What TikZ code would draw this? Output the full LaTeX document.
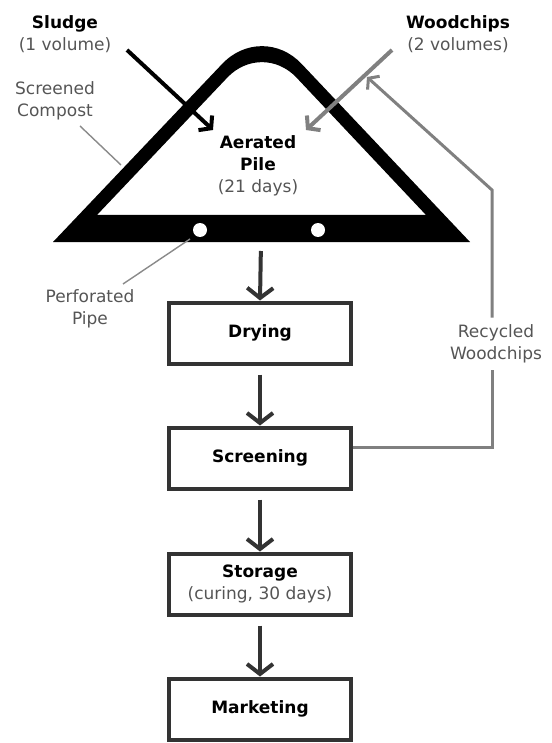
\documentclass[tikz,border=0pt]{standalone}
\usepackage{fontspec}
\setmainfont{DejaVu Sans}
\usepackage{xcolor}
\usetikzlibrary{arrows.meta,calc}
\definecolor{boxgray}{HTML}{333333}
\definecolor{txtgray}{HTML}{555555}
\definecolor{feedgray}{HTML}{808080}
\definecolor{leadgray}{HTML}{8a8a8a}
\newcommand{\headtxt}[1]{{\color{black}\bfseries #1}}
\tikzset{
  stage/.style={
    draw=boxgray,
    line width=4pt,
    minimum width=182pt,
    minimum height=61pt,
    inner sep=0pt,
    align=center,
    font=\fontsize{17}{22}\selectfont\bfseries
  },
  flow/.style={
    draw=boxgray,
    line width=4pt,
    -{Straight Barb[length=10pt,width=26pt]},
    shorten <=9pt
  },
  feed/.style={
    line width=4pt,
    -{Straight Barb[length=8pt,width=20pt]}
  },
  recline/.style={
    draw=feedgray,
    line width=3pt
  },
  note/.style={
    text=txtgray,
    align=center,
    inner sep=7pt,
    font=\fontsize{17}{22}\selectfont
  },
  leader/.style={
    draw=leadgray,
    line width=1.4pt
  },
  hole/.style={
    shape=circle,
    fill=white,
    inner sep=0pt,
    minimum size=14pt
  }
}
\begin{document}
\begin{tikzpicture}[x=1pt,y=-1pt]
  \useasboundingbox (0,0) rectangle (551,743);
  % aerated pile
  \coordinate (pileL) at (53,242);
  \coordinate (pileT) at (262,22);
  \coordinate (pileR) at (470,242);
  \coordinate (innL) at (97,215);
  \coordinate (innT) at (262,41);
  \coordinate (innR) at (426,215);
  \fill[even odd rule]
    (pileL) -- ($(pileL)!0.81!(pileT)$)
      .. controls ($(pileL)!0.917!(pileT)$) and ($(pileR)!0.917!(pileT)$) .. ($(pileR)!0.81!(pileT)$)
      -- (pileR) -- cycle
    (innL) -- ($(innL)!0.79!(innT)$)
      .. controls ($(innL)!0.908!(innT)$) and ($(innR)!0.908!(innT)$) .. ($(innR)!0.79!(innT)$)
      -- (innR) -- cycle;
  \node[hole] (holeA) at (200,230) {};
  \node[hole] (holeB) at (318,230) {};
  \coordinate (pileB) at (261,242);
  \node[note] (pile) at (258,166) {\headtxt{Aerated}\\\headtxt{Pile}\\(21 days)};

  % inputs
  \node[note] (sludge) at (65,34) {\headtxt{Sludge}\\(1 volume)};
  \node[note] (chips) at (458,34) {\headtxt{Woodchips}\\(2 volumes)};
  \coordinate (sludgeS) at (127,50);
  \coordinate (sludgeE) at (213,130);
  \coordinate (chipsS) at (392,50);
  \coordinate (chipsE) at (306,130);
  \draw[feed, draw=black] (sludgeS) -- (sludgeE);
  \draw[feed, draw=feedgray] (chipsS) -- (chipsE);

  % labels
  \node[note] (compost) at (55,101) {Screened\\Compost};
  \coordinate (compostA) at (80,126);
  \coordinate (compostB) at (121,165);
  \draw[leader] (compostA) -- (compostB);
  \node[note] (pipe) at (90,309) {Perforated\\Pipe};
  \coordinate (pipeA) at (123,284);
  \draw[leader] ($(holeA)+(-10,9)$) -- (pipeA);

  % stages
  \node[stage] (drying) at (260,333) {Drying};
  \node[stage] (screening) at (260,458) {Screening};
  \node[stage] (storage) at (260,584) {Storage\\{\mdseries\color{txtgray}(curing, 30 days)}};
  \node[stage] (marketing) at (260,709) {Marketing};
  \draw[flow] (pileB) -- (drying.north);
  \draw[flow] (drying.south) -- (screening.north);
  \draw[flow] (screening.south) -- (storage.north);
  \draw[flow] (storage.south) -- (marketing.north);

  % recycled woodchips
  \node[note] (recy) at (496,344) {Recycled\\Woodchips};
  \coordinate (recA) at (492,447);
  \coordinate (recB) at (492,190);
  \coordinate (recTip) at (367,77);
  \draw[recline] (screening.east |- recA) -- (recA) -- (recy.south -| recA);
  \draw[recline, -{Straight Barb[length=7pt,width=18pt]}] (recy.north -| recA) -- (recB) -- (recTip);
\end{tikzpicture}
\end{document}
